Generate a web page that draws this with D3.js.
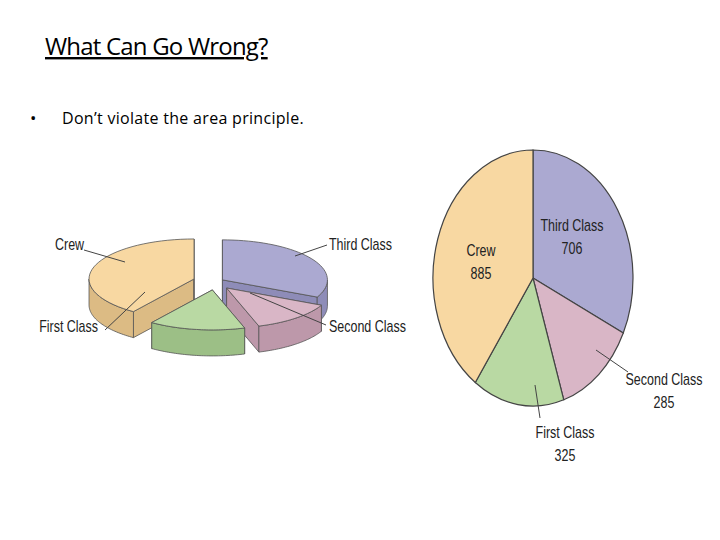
<!DOCTYPE html>
<html><head><meta charset="utf-8">
<script src="https://cdn.jsdelivr.net/npm/d3@7"></script>
<style>body{margin:0;background:#fff}</style>
</head><body>
<svg id="slide" width="720" height="540"></svg>
<script>
var classes = ["Third Class", "Second Class", "First Class", "Crew"];
var counts = [706, 285, 325, 885];
var fills = ["#aba9d1", "#d9b6c6", "#b9d9a3", "#f8d8a2"];
var sides = ["#8e8cb8", "#bd98aa", "#9cbf86", "#dcbb84"];

var svg = d3.select("#slide");
var font = "'Liberation Sans', Arial, sans-serif";
var squeeze = 0.78;

// title + bullet
svg.append("text").attr("x", 45).attr("y", 55).attr("font-family", "'Open Sans', sans-serif")
  .attr("font-size", 24).attr("text-decoration", "underline").attr("letter-spacing", -0.8)
  .text("What Can Go Wrong?");
svg.append("text").attr("x", 30).attr("y", 124).attr("font-family", "'Open Sans', sans-serif")
  .attr("font-size", 17).text("•");
svg.append("text").attr("x", 62).attr("y", 124).attr("font-family", "'Open Sans', sans-serif")
  .attr("font-size", 16).attr("letter-spacing", 0.3).text("Don’t violate the area principle.");

var slices = d3.pie().sort(null).value(function(d) { return d; })(counts);

// ---- flat (elliptical) pie on the right ----
var cx = 533, cy = 278, rx = 100, ry = 128;
var arc = d3.arc().innerRadius(0).outerRadius(rx);
var right = svg.append("g").attr("transform", "translate(" + cx + "," + cy + ") scale(1," + (ry / rx) + ")");
right.selectAll("path").data(slices).enter().append("path")
  .attr("d", arc).attr("fill", function(d, i) { return fills[i]; })
  .attr("stroke", "#444").attr("stroke-width", 1.2).attr("vector-effect", "non-scaling-stroke");

// narrow text: squeeze horizontally around the anchor x
function label(x, y, lines, anchor) {
  var g = svg.append("g").attr("transform", "translate(" + x + "," + y + ") scale(" + squeeze + ",1)");
  var t = g.append("text").attr("font-family", font).attr("font-size", 16).attr("text-anchor", anchor).attr("fill", "#222");
  lines.forEach(function(s, k) { t.append("tspan").attr("x", 0).attr("y", k * 23).text(s); });
}
function line(x1, y1, x2, y2) {
  svg.append("line").attr("x1", x1).attr("y1", y1).attr("x2", x2).attr("y2", y2).attr("stroke", "#444");
}
label(572, 231, [classes[0], counts[0]], "middle");
label(481, 256, [classes[3], counts[3]], "middle");
label(664, 385, [classes[1], counts[1]], "middle");
label(565, 438, [classes[2], counts[2]], "middle");
line(596, 350, 628, 372);
line(535, 385, 540, 418);

// ---- 3D exploded pie on the left ----
var lx = 215, ly = 282, lrx = 105, lry = 40, depth = 26;
var explode = [4, 8, 8, 10];
function pt(a, r, ox, oy, dz) {
  return [lx + ox + r * lrx * Math.sin(a), ly + oy - r * lry * Math.cos(a) + dz];
}
var left = svg.append("g");
var order = slices.map(function(d, i) { return i; }).sort(function(a, b) {
  var ma = (slices[a].startAngle + slices[a].endAngle) / 2, mb = (slices[b].startAngle + slices[b].endAngle) / 2;
  return -Math.cos(ma) + Math.cos(mb);
});
order.forEach(function(i) {
  var d = slices[i], mid = (d.startAngle + d.endAngle) / 2;
  var ox = explode[i] * 2.2 * Math.sin(mid), oy = -explode[i] * Math.cos(mid);
  var n = 40, top = [], wall = [], k, a;
  [d.startAngle, d.endAngle].forEach(function(e) {
    var c = pt(0, 0, ox, oy, 0), p = pt(e, 1, ox, oy, 0);
    left.append("path").attr("d", d3.line()([c, p, [p[0], p[1] + depth], [c[0], c[1] + depth]]) + "Z")
      .attr("fill", sides[i]).attr("stroke", "#555").attr("stroke-width", 0.8);
  });
  for (k = 0; k <= n; k++) { a = d.startAngle + (d.endAngle - d.startAngle) * k / n; top.push(pt(a, 1, ox, oy, 0)); }
  var lo = Math.max(d.startAngle, Math.PI / 2), hi = Math.min(d.endAngle, 3 * Math.PI / 2);
  if (hi > lo) {
    for (k = 0; k <= n; k++) { a = lo + (hi - lo) * k / n; wall.push(pt(a, 1, ox, oy, 0)); }
    for (k = n; k >= 0; k--) { a = lo + (hi - lo) * k / n; wall.push(pt(a, 1, ox, oy, depth)); }
    left.append("path").attr("d", d3.line()(wall) + "Z").attr("fill", sides[i]).attr("stroke", "#555").attr("stroke-width", 0.8);
  }
  top.push(pt(0, 0, ox, oy, 0));
  left.append("path").attr("d", d3.line()(top) + "Z").attr("fill", fills[i]).attr("stroke", "#555").attr("stroke-width", 0.8);
});

label(55, 250, ["Crew"], "start");
line(84, 250, 125, 262);
label(329, 250, ["Third Class"], "start");
line(295, 256, 327, 245);
label(329, 332, ["Second Class"], "start");
line(250, 293, 326, 325);
label(98, 332, ["First Class"], "end");
line(105, 330, 145, 292);
</script>
</body></html>
